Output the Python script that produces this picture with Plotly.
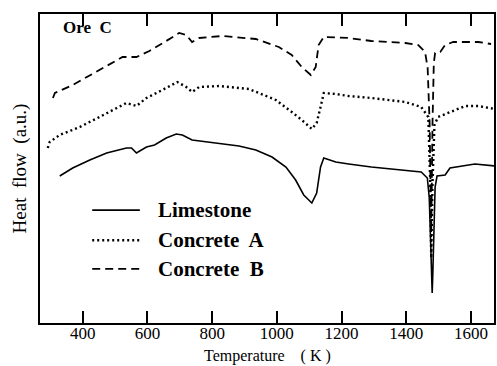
import plotly.graph_objects as go

# Temperature (K) and heat flow (a.u.)
lime_T = [329, 369, 422, 474, 535, 551, 566, 597, 622, 658, 689, 708, 738, 782, 883, 935, 985,
          1028, 1058, 1083, 1108, 1123, 1135, 1145, 1182, 1222, 1292, 1446, 1465, 1471, 1475,
          1478, 1480, 1482, 1485, 1489, 1495, 1520, 1535, 1582, 1612, 1674]
lime_H = [14.7, 15.5, 16.3, 17.0, 17.5, 17.5, 17.0, 17.6, 17.8, 18.5, 18.9, 18.8, 18.3, 18.1,
          17.7, 17.3, 16.6, 15.6, 14.3, 12.8, 12.0, 13.0, 15.6, 16.5, 16.1, 15.9, 15.6, 15.1,
          14.5, 12.5, 8.0, 4.0, 3.0, 5.0, 10.0, 13.6, 14.7, 14.8, 15.5, 15.7, 15.9, 15.7]

concA_T = [292, 298, 329, 391, 452, 535, 566, 597, 658, 692, 720, 738, 760, 822, 914, 997,
           1046, 1077, 1108, 1123, 1135, 1145, 1182, 1222, 1292, 1397, 1446, 1468, 1474, 1477,
           1481, 1487, 1498, 1529, 1582, 1622, 1674]
concA_H = [17.5, 18.1, 18.8, 19.6, 20.6, 22.0, 21.7, 22.5, 23.5, 24.1, 23.6, 23.1, 23.6, 23.7,
           23.4, 22.3, 21.1, 20.3, 19.4, 20.0, 21.6, 23.0, 22.9, 22.7, 22.5, 22.1, 21.6, 20.6,
           14.0, 6.5, 14.0, 19.8, 20.6, 21.0, 21.7, 21.7, 21.4]

concB_T = [308, 314, 369, 452, 523, 566, 606, 658, 698, 720, 738, 760, 831, 935, 1006, 1046,
           1077, 1105, 1120, 1129, 1145, 1222, 1292, 1397, 1437, 1458, 1466, 1472, 1477, 1481,
           1485, 1489, 1505, 1520, 1545, 1622, 1662]
concB_H = [22.5, 23.0, 23.8, 25.3, 26.6, 26.6, 27.2, 28.2, 29.0, 28.8, 28.1, 28.5, 28.7, 28.4,
           27.6, 26.8, 25.6, 24.8, 25.6, 27.8, 28.6, 28.5, 28.2, 28.0, 27.8, 27.1, 25.5, 20.0,
           9.0, 20.0, 26.0, 27.0, 27.1, 27.8, 28.1, 28.1, 27.9]

x_ticks = [400, 600, 800, 1000, 1200, 1400, 1600]
series_names = ["Limestone", "Concrete  A", "Concrete  B"]
series_dash = ["solid", "2px,3px", "8px,5px"]

serif = "Liberation Serif, Times New Roman, serif"

fig = go.Figure()
fig.add_trace(go.Scatter(x=lime_T, y=lime_H, mode="lines", name=series_names[0],
                         line=dict(color="black", width=1.6, dash=series_dash[0])))
fig.add_trace(go.Scatter(x=concA_T, y=concA_H, mode="lines", name=series_names[1],
                         line=dict(color="black", width=2.4, dash=series_dash[1])))
fig.add_trace(go.Scatter(x=concB_T, y=concB_H, mode="lines", name=series_names[2],
                         line=dict(color="black", width=1.8, dash=series_dash[2])))

# Manual legend (sample lines + labels)
leg_rows_y = [0.365, 0.268, 0.175]
for name, dash, yy in zip(series_names, series_dash, leg_rows_y):
    fig.add_shape(type="line", xref="paper", yref="paper", x0=0.115, x1=0.22, y0=yy, y1=yy,
                  line=dict(color="black", width=1.8 if dash != "2px,3px" else 2.4, dash=dash))
    fig.add_annotation(xref="paper", yref="paper", x=0.255, y=yy, text="<b>%s</b>" % name,
                       showarrow=False, xanchor="left", yanchor="middle",
                       font=dict(family=serif, size=21, color="black"))

fig.add_annotation(xref="paper", yref="paper", x=0.046, y=0.955, text="<b>Ore  C</b>",
                   showarrow=False, xanchor="left", yanchor="middle",
                   font=dict(family=serif, size=17, color="black"))

# x-axis title placed as an annotation just below the tick labels
fig.add_annotation(xref="paper", yref="paper", x=0.5, y=-0.138, yanchor="bottom",
                   text="Temperature    ( K )", showarrow=False, borderpad=0,
                   font=dict(family=serif, size=16, color="black"))

fig.update_layout(
    width=497, height=366,
    margin=dict(l=40, r=1, t=14, b=43),
    paper_bgcolor="white", plot_bgcolor="white",
    showlegend=False,
    font=dict(family=serif, color="black"),
)
fig.update_xaxes(
    range=[268, 1671], tickvals=x_ticks, ticktext=[str(v) for v in x_ticks],
    ticks="inside", ticklen=12, tickwidth=1.5, tickcolor="black",
    showline=True, linecolor="black", linewidth=2, mirror="ticks",
    showgrid=False, zeroline=False, ticklabelstandoff=-6,
    tickfont=dict(family=serif, size=17, color="black"),
)
fig.update_yaxes(
    range=[0, 30.9], showticklabels=False, ticks="",
    showline=True, linecolor="black", linewidth=2, mirror=True,
    showgrid=False, zeroline=False,
    title=dict(text="Heat  flow  (a.u.)", standoff=6,
               font=dict(family=serif, size=19, color="black")),
)

fig.write_html("out.html")
